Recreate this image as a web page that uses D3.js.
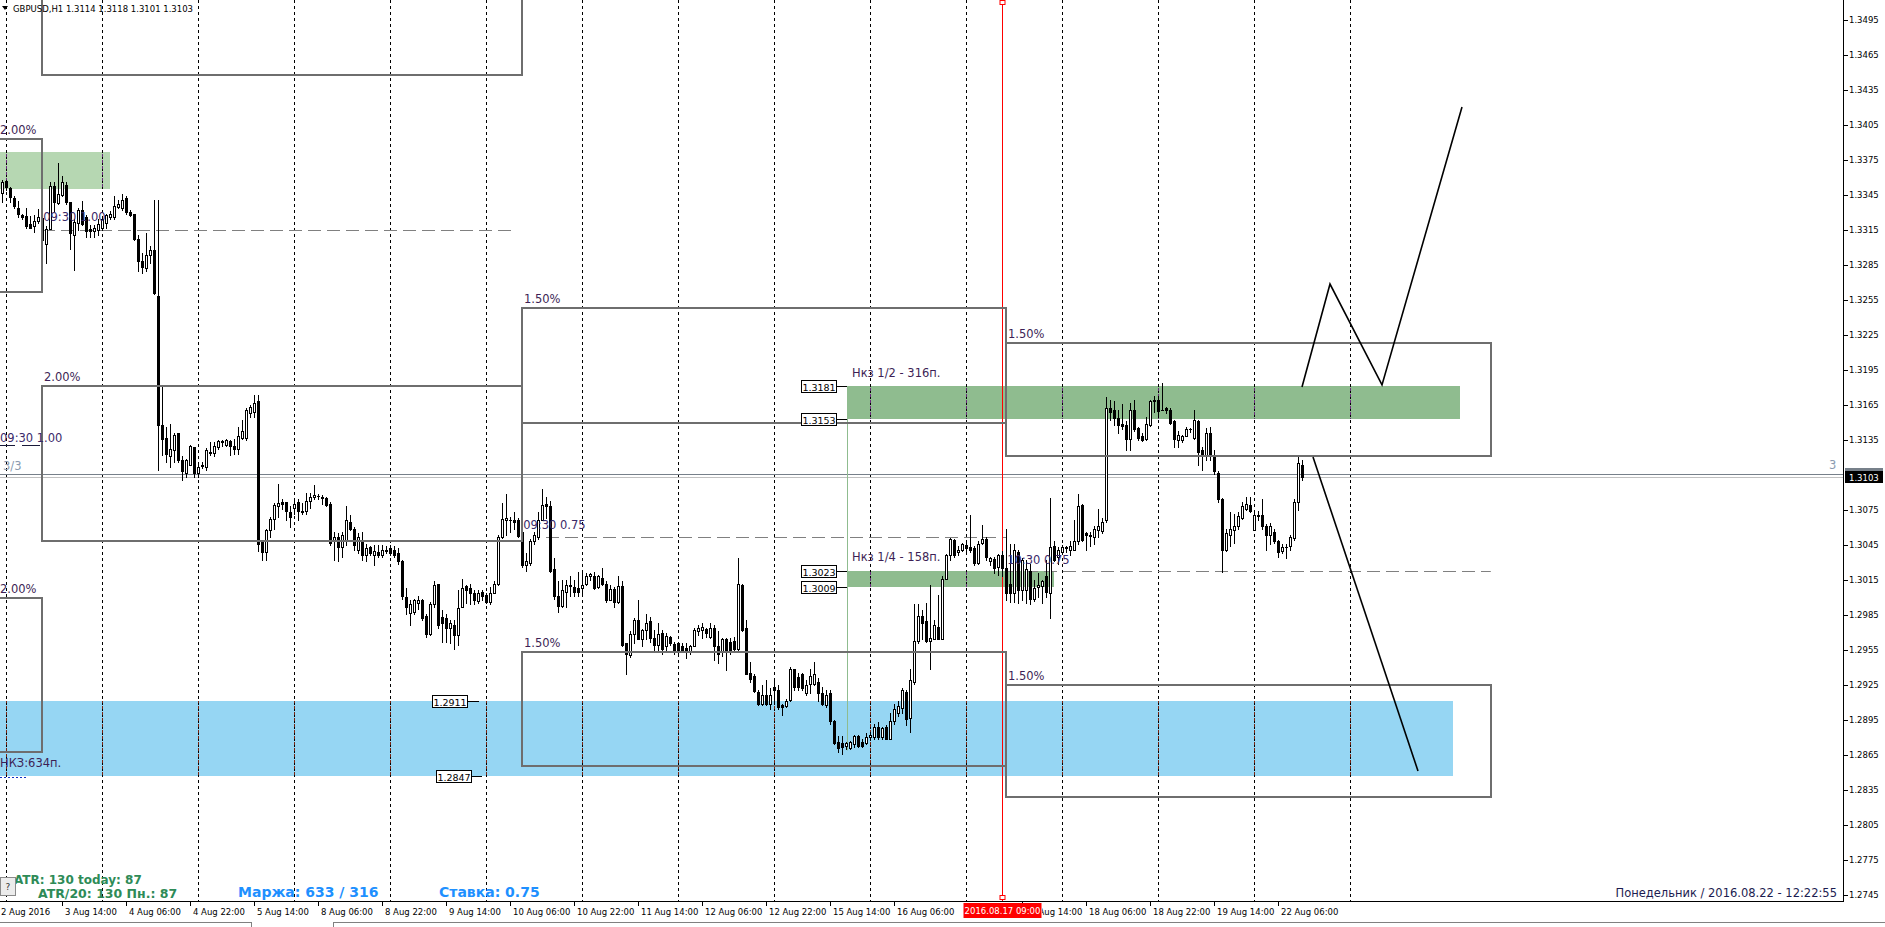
<!DOCTYPE html>
<html><head><meta charset="utf-8">
<script src="https://cdn.jsdelivr.net/npm/d3@7"></script>
<style>
body{margin:0;background:#fff;overflow:hidden}
svg{display:block}
text{font-family:"DejaVu Sans",Verdana,sans-serif}
</style>
</head><body>
<svg id="c" width="1885" height="927"></svg>
<script>
// ---------------- DATA ----------------
const symbolHeader = "GBPUSD,H1  1.3114 1.3118 1.3101 1.3103";
const firstBar = 23; // index of first candle (bar 0 = 2 Aug 2016 00:00, H1)
// [open, high, low, close]
const candles = [
[1.3347,1.3358,1.3339,1.3356],[1.3357,1.3358,1.3349,1.3352],[1.3351,1.3352,1.3339,1.3343],[1.3342,1.3344,1.3334,1.3336],
[1.3334,1.3340,1.3326,1.3329],[1.3328,1.3329,1.3324,1.3326],[1.3327,1.3334,1.3317,1.3318],[1.3320,1.3327,1.3317,1.3317],
[1.3318,1.3328,1.3313,1.3323],[1.3323,1.3333,1.3321,1.3326],[1.3325,1.3326,1.3301,1.3306],[1.3303,1.3318,1.3287,1.3316],
[1.3316,1.3356,1.3316,1.3353],[1.3353,1.3356,1.3331,1.3339],[1.3338,1.3372,1.3337,1.3346],[1.3345,1.3361,1.3344,1.3356],
[1.3354,1.3356,1.3337,1.3339],[1.3339,1.3339,1.3299,1.3312],[1.3311,1.3324,1.3281,1.3322],[1.3321,1.3334,1.3315,1.3332],
[1.3332,1.3340,1.3319,1.3320],[1.3326,1.3328,1.3309,1.3314],[1.3316,1.3319,1.3309,1.3314],[1.3314,1.3319,1.3309,1.3317],
[1.3315,1.3324,1.3311,1.3320],[1.3317,1.3325,1.3315,1.3324],[1.3321,1.3329,1.3317,1.3328],[1.3326,1.3331,1.3324,1.3329],
[1.3326,1.3344,1.3324,1.3336],[1.3335,1.3341,1.3334,1.3337],[1.3334,1.3346,1.3332,1.3341],[1.3342,1.3344,1.3329,1.3330],
[1.3330,1.3332,1.3327,1.3328],[1.3329,1.3329,1.3306,1.3307],[1.3307,1.3311,1.3280,1.3288],[1.3288,1.3295,1.3278,1.3283],
[1.3282,1.3312,1.3280,1.3294],[1.3294,1.3301,1.3287,1.3298],[1.3298,1.3341,1.3260,1.3261],[1.3258,1.3341,1.3109,1.3148],
[1.3148,1.3182,1.3122,1.3136],[1.3137,1.3146,1.3116,1.3123],[1.3121,1.3149,1.3112,1.3127],[1.3126,1.3141,1.3116,1.3139],
[1.3141,1.3141,1.3116,1.3118],[1.3118,1.3121,1.3101,1.3108],[1.3107,1.3119,1.3103,1.3118],[1.3114,1.3131,1.3114,1.3130],
[1.3129,1.3129,1.3103,1.3107],[1.3107,1.3116,1.3103,1.3112],[1.3113,1.3116,1.3111,1.3114],[1.3112,1.3128,1.3109,1.3126],
[1.3124,1.3133,1.3122,1.3125],[1.3124,1.3133,1.3121,1.3130],[1.3129,1.3135,1.3127,1.3134],[1.3133,1.3135,1.3130,1.3134],
[1.3131,1.3136,1.3130,1.3135],[1.3134,1.3135,1.3122,1.3130],[1.3130,1.3136,1.3123,1.3127],[1.3127,1.3146,1.3123,1.3138],
[1.3137,1.3152,1.3136,1.3143],[1.3137,1.3162,1.3135,1.3161],[1.3158,1.3165,1.3155,1.3163],[1.3159,1.3174,1.3155,1.3167],
[1.3168,1.3174,1.3040,1.3046],[1.3048,1.3049,1.3032,1.3039],[1.3039,1.3059,1.3032,1.3058],[1.3058,1.3069,1.3052,1.3067],
[1.3067,1.3081,1.3059,1.3079],[1.3078,1.3097,1.3069,1.3081],[1.3082,1.3084,1.3076,1.3080],[1.3082,1.3082,1.3066,1.3074],
[1.3073,1.3078,1.3060,1.3069],[1.3077,1.3084,1.3072,1.3080],[1.3082,1.3084,1.3066,1.3074],[1.3074,1.3081,1.3072,1.3073],
[1.3074,1.3090,1.3072,1.3083],[1.3083,1.3090,1.3077,1.3086],[1.3086,1.3096,1.3084,1.3088],[1.3087,1.3089,1.3084,1.3087],
[1.3086,1.3088,1.3080,1.3085],[1.3085,1.3086,1.3078,1.3079],[1.3080,1.3082,1.3045,1.3047],[1.3049,1.3056,1.3032,1.3052],
[1.3052,1.3055,1.3031,1.3043],[1.3043,1.3056,1.3035,1.3054],[1.3049,1.3078,1.3045,1.3066],[1.3065,1.3071,1.3058,1.3059],
[1.3059,1.3060,1.3041,1.3045],[1.3041,1.3055,1.3038,1.3052],[1.3048,1.3056,1.3032,1.3036],[1.3036,1.3046,1.3031,1.3042],
[1.3043,1.3044,1.3036,1.3038],[1.3036,1.3045,1.3028,1.3040],[1.3039,1.3045,1.3035,1.3036],[1.3036,1.3045,1.3035,1.3041],
[1.3041,1.3044,1.3038,1.3040],[1.3042,1.3045,1.3036,1.3038],[1.3041,1.3044,1.3035,1.3036],[1.3038,1.3042,1.3029,1.3031],
[1.3031,1.3032,1.2999,1.3001],[1.3000,1.3008,1.2986,1.2992],[1.2987,1.2998,1.2976,1.2994],[1.2988,1.2999,1.2986,1.2998],
[1.2995,1.3001,1.2990,1.2998],[1.2998,1.2999,1.2981,1.2982],[1.2984,1.2986,1.2966,1.2969],[1.2969,1.2996,1.2968,1.2994],
[1.2994,1.3014,1.2992,1.3011],[1.3012,1.3012,1.2974,1.2976],[1.2983,1.2989,1.2962,1.2978],[1.2982,1.2986,1.2962,1.2974],
[1.2974,1.2981,1.2961,1.2978],[1.2976,1.2981,1.2956,1.2968],[1.2968,1.3006,1.2959,1.2991],[1.2992,1.3016,1.2992,1.3008],
[1.3010,1.3011,1.2995,1.3006],[1.3008,1.3012,1.2994,1.3004],[1.3004,1.3006,1.2994,1.2998],[1.2997,1.3006,1.2995,1.3004],
[1.3005,1.3006,1.2998,1.3001],[1.3002,1.3004,1.2995,1.2996],[1.2996,1.3009,1.2994,1.3004],[1.3004,1.3014,1.3004,1.3012],
[1.3012,1.3054,1.3011,1.3052],[1.3052,1.3081,1.3051,1.3067],[1.3066,1.3089,1.3054,1.3068],[1.3066,1.3069,1.3056,1.3066],
[1.3066,1.3073,1.3059,1.3065],[1.3066,1.3068,1.3052,1.3053],[1.3056,1.3058,1.3026,1.3028],[1.3028,1.3038,1.3023,1.3031],
[1.3030,1.3050,1.3028,1.3048],[1.3048,1.3056,1.3046,1.3054],[1.3052,1.3073,1.3050,1.3066],[1.3066,1.3093,1.3066,1.3079],
[1.3080,1.3086,1.3068,1.3078],[1.3078,1.3083,1.3022,1.3023],[1.3024,1.3034,1.2999,1.3001],[1.3001,1.3014,1.2988,1.2993],
[1.2993,1.3015,1.2992,1.3006],[1.3005,1.3015,1.2992,1.3011],[1.3010,1.3018,1.3001,1.3011],[1.3009,1.3015,1.3001,1.3005],
[1.3008,1.3022,1.3001,1.3005],[1.3008,1.3021,1.3004,1.3011],[1.3012,1.3021,1.3011,1.3018],[1.3018,1.3021,1.3015,1.3020],
[1.3018,1.3022,1.3007,1.3008],[1.3009,1.3019,1.3008,1.3018],[1.3017,1.3025,1.3011,1.3012],[1.3012,1.3014,1.2996,1.2998],
[1.2998,1.3011,1.2998,1.3007],[1.3007,1.3009,1.2992,1.2996],[1.2996,1.3018,1.2995,1.3010],[1.3010,1.3014,1.2958,1.2959],
[1.2961,1.2961,1.2934,1.2952],[1.2951,1.2971,1.2949,1.2969],[1.2969,1.2982,1.2961,1.2981],[1.2981,1.2998,1.2964,1.2964],
[1.2964,1.2973,1.2958,1.2972],[1.2972,1.2986,1.2964,1.2978],[1.2980,1.2983,1.2962,1.2965],[1.2965,1.2972,1.2955,1.2959],
[1.2959,1.2978,1.2955,1.2969],[1.2970,1.2972,1.2952,1.2956],[1.2958,1.2970,1.2955,1.2967],[1.2966,1.2967,1.2959,1.2961],
[1.2960,1.2962,1.2952,1.2955],[1.2961,1.2961,1.2952,1.2955],[1.2958,1.2961,1.2953,1.2955],[1.2957,1.2961,1.2948,1.2955],
[1.2954,1.2959,1.2952,1.2958],[1.2958,1.2974,1.2958,1.2972],[1.2971,1.2976,1.2968,1.2974],[1.2972,1.2978,1.2965,1.2975],
[1.2973,1.2974,1.2966,1.2970],[1.2966,1.2978,1.2965,1.2974],[1.2974,1.2976,1.2946,1.2958],[1.2958,1.2971,1.2944,1.2952],
[1.2953,1.2965,1.2950,1.2964],[1.2964,1.2965,1.2938,1.2954],[1.2962,1.2965,1.2952,1.2954],[1.2963,1.2966,1.2955,1.2956],
[1.2956,1.3034,1.2955,1.3012],[1.3011,1.3012,1.2971,1.2972],[1.2974,1.2981,1.2934,1.2934],[1.2935,1.2945,1.2928,1.2930],
[1.2933,1.2934,1.2919,1.2920],[1.2919,1.2921,1.2908,1.2909],[1.2909,1.2925,1.2908,1.2916],[1.2916,1.2929,1.2908,1.2909],
[1.2909,1.2922,1.2904,1.2916],[1.2923,1.2929,1.2909,1.2921],[1.2921,1.2925,1.2904,1.2906],[1.2908,1.2909,1.2899,1.2906],
[1.2907,1.2913,1.2906,1.2911],[1.2912,1.2940,1.2911,1.2939],[1.2939,1.2939,1.2921,1.2923],[1.2932,1.2935,1.2921,1.2923],
[1.2934,1.2935,1.2921,1.2922],[1.2918,1.2929,1.2916,1.2925],[1.2926,1.2939,1.2918,1.2933],[1.2926,1.2945,1.2925,1.2934],
[1.2928,1.2931,1.2911,1.2918],[1.2918,1.2923,1.2908,1.2909],[1.2908,1.2921,1.2906,1.2916],[1.2918,1.2921,1.2892,1.2894],
[1.2894,1.2895,1.2874,1.2875],[1.2876,1.2881,1.2868,1.2871],[1.2875,1.2881,1.2866,1.2872],[1.2873,1.2876,1.2870,1.2875],
[1.2871,1.2877,1.2870,1.2876],[1.2874,1.2882,1.2872,1.2881],[1.2881,1.2882,1.2872,1.2873],[1.2876,1.2879,1.2872,1.2873],
[1.2875,1.2884,1.2874,1.2880],[1.2880,1.2885,1.2879,1.2882],[1.2880,1.2892,1.2879,1.2889],[1.2889,1.2893,1.2879,1.2880],
[1.2880,1.2889,1.2879,1.2888],[1.2889,1.2891,1.2879,1.2879],[1.2879,1.2901,1.2879,1.2894],[1.2894,1.2909,1.2892,1.2904],
[1.2901,1.2911,1.2898,1.2907],[1.2905,1.2922,1.2901,1.2921],[1.2919,1.2921,1.2891,1.2896],[1.2897,1.2939,1.2885,1.2929],
[1.2928,1.2994,1.2926,1.2963],[1.2963,1.2994,1.2961,1.2984],[1.2984,1.2989,1.2964,1.2978],[1.2980,1.2995,1.2962,1.2963],
[1.2963,1.3011,1.2939,1.2965],[1.2964,1.2981,1.2964,1.2976],[1.2975,1.3002,1.2964,1.2964],[1.2964,1.3018,1.2964,1.3016],
[1.3016,1.3037,1.3016,1.3036],[1.3036,1.3051,1.3032,1.3050],[1.3049,1.3050,1.3035,1.3036],[1.3039,1.3044,1.3036,1.3041],
[1.3041,1.3047,1.3040,1.3046],[1.3045,1.3049,1.3040,1.3042],[1.3043,1.3071,1.3039,1.3041],[1.3042,1.3044,1.3028,1.3030],
[1.3030,1.3048,1.3029,1.3046],[1.3047,1.3062,1.3046,1.3050],[1.3050,1.3052,1.3032,1.3035],[1.3031,1.3035,1.3028,1.3034],
[1.3033,1.3035,1.3021,1.3025],[1.3026,1.3037,1.3019,1.3036],[1.3036,1.3040,1.3018,1.3025],[1.3025,1.3059,1.2998,1.3004],
[1.3012,1.3046,1.2996,1.3004],[1.3004,1.3046,1.2996,1.3041],[1.3039,1.3041,1.2995,1.3006],[1.3006,1.3034,1.2998,1.3032],
[1.3006,1.3032,1.2995,1.3024],[1.3023,1.3029,1.2994,1.2999],[1.2999,1.3015,1.2997,1.3008],[1.3009,1.3021,1.3000,1.3011],
[1.3010,1.3015,1.2995,1.3014],[1.3018,1.3032,1.3000,1.3005],[1.3004,1.3085,1.2982,1.3043],[1.3044,1.3048,1.3031,1.3032],
[1.3035,1.3043,1.3029,1.3041],[1.3039,1.3045,1.3037,1.3043],[1.3042,1.3044,1.3039,1.3043],[1.3041,1.3048,1.3036,1.3044],
[1.3041,1.3066,1.3041,1.3048],[1.3048,1.3089,1.3046,1.3078],[1.3079,1.3080,1.3048,1.3049],[1.3055,1.3056,1.3041,1.3054],
[1.3054,1.3056,1.3044,1.3053],[1.3052,1.3061,1.3046,1.3059],[1.3058,1.3076,1.3052,1.3061],[1.3057,1.3068,1.3055,1.3065],
[1.3066,1.3172,1.3065,1.3162],[1.3162,1.3169,1.3152,1.3159],[1.3161,1.3168,1.3148,1.3154],[1.3154,1.3161,1.3141,1.3148],
[1.3149,1.3166,1.3144,1.3147],[1.3148,1.3151,1.3126,1.3136],[1.3136,1.3167,1.3126,1.3161],[1.3161,1.3169,1.3143,1.3144],
[1.3145,1.3146,1.3135,1.3137],[1.3138,1.3141,1.3134,1.3135],[1.3136,1.3155,1.3135,1.3149],[1.3148,1.3169,1.3147,1.3168],
[1.3168,1.3173,1.3159,1.3169],[1.3169,1.3173,1.3155,1.3160],[1.3161,1.3184,1.3161,1.3161],[1.3162,1.3163,1.3158,1.3161],
[1.3161,1.3162,1.3149,1.3150],[1.3151,1.3152,1.3129,1.3136],[1.3135,1.3143,1.3129,1.3139],[1.3135,1.3139,1.3133,1.3138],
[1.3138,1.3146,1.3138,1.3144],[1.3144,1.3145,1.3142,1.3144],[1.3137,1.3161,1.3136,1.3152],[1.3151,1.3152,1.3114,1.3125],
[1.3126,1.3129,1.3109,1.3121],[1.3121,1.3145,1.3118,1.3141],[1.3141,1.3146,1.3118,1.3121],[1.3121,1.3126,1.3106,1.3108],
[1.3107,1.3108,1.3082,1.3084],[1.3084,1.3085,1.3022,1.3041],[1.3041,1.3059,1.3040,1.3055],[1.3054,1.3073,1.3044,1.3059],
[1.3058,1.3072,1.3047,1.3061],[1.3061,1.3073,1.3059,1.3070],[1.3068,1.3082,1.3067,1.3078],[1.3076,1.3086,1.3075,1.3080],
[1.3079,1.3086,1.3073,1.3074],[1.3058,1.3074,1.3058,1.3071],[1.3071,1.3074,1.3066,1.3070],[1.3071,1.3084,1.3059,1.3061],
[1.3061,1.3063,1.3041,1.3054],[1.3054,1.3064,1.3046,1.3061],[1.3056,1.3059,1.3047,1.3048],[1.3048,1.3049,1.3035,1.3039],
[1.3040,1.3046,1.3038,1.3043],[1.3043,1.3046,1.3034,1.3043],[1.3044,1.3054,1.3041,1.3052],[1.3051,1.3084,1.3049,1.3082],
[1.3082,1.3121,1.3075,1.3115],[1.3114,1.3118,1.3101,1.3103]
];
const priceTicks = [1.3495,1.3465,1.3435,1.3405,1.3375,1.3345,1.3315,1.3285,1.3255,1.3225,1.3195,1.3165,1.3135,1.3075,1.3045,1.3015,1.2985,1.2955,1.2925,1.2895,1.2865,1.2835,1.2805,1.2775,1.2745];
const timeLabelBars = [22,38,54,70,86,102,118,134,150,166,182,198,214,230,246,278,294,310,326,342];
const timeLabelTexts = ["2 Aug 2016","3 Aug 14:00","4 Aug 06:00","4 Aug 22:00","5 Aug 14:00","8 Aug 06:00","8 Aug 22:00","9 Aug 14:00","10 Aug 06:00","10 Aug 22:00","11 Aug 14:00","12 Aug 06:00","12 Aug 22:00","15 Aug 14:00","16 Aug 06:00","17 Aug 14:00","18 Aug 06:00","18 Aug 22:00","19 Aug 14:00","22 Aug 06:00"];
const dayStartBars = [24,48,72,96,120,144,168,192,216,240,264,288,312,336,360];
const bidPrice = 1.3103, askPrice = 1.3106;
const markedBar = 273, markedLabel = "2016.08.17 09:00";
// filled zones: [bar0, bar1, priceTop, priceBottom, colour]
const zones = [
  [0, 50, 1.3382, 1.3350, "#b6d7b2"],
  [0, 385.8, 1.2911, 1.2847, "#96d6f3"],
  [234.2, 387.4, 1.3181, 1.3153, "#8fbc8f"],
  [234.2, 286, 1.3023, 1.3009, "#8fbc8f"]
];
// outline boxes: [bar0, bar1, priceTop, priceBottom, label]
const boxes = [
  [33, 153, 1.3600, 1.34481, ""],
  [21.5, 33, 1.33933, 1.32621, "2.00%"],
  [33, 153, 1.31813, 1.30487, "2.00%"],
  [21.5, 33, 1.29999, 1.28679, "2.00%"],
  [153, 274, 1.32479, 1.31498, "1.50%"],
  [153, 274, 1.29536, 1.28559, "1.50%"],
  [274, 395.2, 1.32184, 1.31213, "1.50%"],
  [274, 395.2, 1.29250, 1.28290, "1.50%"]
];
// dashed levels: [bar0, bar1, price]
const dashLevels = [[33, 151, 1.3315], [159, 274, 1.30516], [274, 395.2, 1.30227]];
// level texts: [bar, price, text]
const levelTexts = [[33.3, 1.3323, "09:30 1.00"], [22.2, 1.3133, "09:30 1.00"], [153.3, 1.3059, "09:30 0.75"], [274.3, 1.3029, "10:30 0.75"]];
const zoneNotes = [[235.5, 1.3189, "Нкз 1/2 - 316п."], [235.5, 1.3031, "Нкз 1/4 - 158п."], [22.2, 1.2855, "НКЗ:634п."]];
// price tags: [anchor bar, price, line length px]
const priceTags = [[234.2, 1.3181, 10], [234.2, 1.3153, 10], [234.2, 1.3023, 10], [234.2, 1.3009, 10], [142.3, 1.2911, 11], [143, 1.2847, 10]];
const greenVLine = [234.2, 1.3153, 1.2869];
// forecast paths: [bar, price]
const pathUp = [[348, 1.31804], [355, 1.32687], [368, 1.31822], [388, 1.34204]];
const pathDown = [[350.75, 1.31204], [377, 1.28513]];
const infoATR1 = "ATR: 130  today: 87", infoATR2 = "ATR/20: 130  Пн.: 87";
const infoMargin = "Маржа: 633 / 316", infoRate = "Ставка: 0.75";
const infoClock = "Понедельник / 2016.08.22  -  12:22:55";

// ---------------- SCALES ----------------
const W = 1885, H = 927, plotR = 1843, plotB = 901;
const x = d3.scaleLinear().domain([0, 348]).range([-90, 1302]);
const y = d3.scaleLinear().domain([1.2745, 1.3495]).range([895, 20]);
const svg = d3.select("#c");
svg.append("rect").attr("width", W).attr("height", H).attr("fill", "#fff");
const defs = svg.append("defs");
defs.append("clipPath").attr("id", "plot").append("rect").attr("x", 0).attr("y", 0).attr("width", plotR).attr("height", plotB);
const g = svg.append("g").attr("clip-path", "url(#plot)");
const R = v => Math.round(v);

// zones
zones.forEach(z => {
  g.append("rect").attr("x", R(x(z[0]))).attr("y", R(y(z[2]))).attr("width", R(x(z[1])) - R(x(z[0])))
   .attr("height", R(y(z[3])) - R(y(z[2]))).attr("fill", z[4]);
});
// vertical day grid (dotted), recoloured over zones
const gridG = g.append("g").attr("shape-rendering", "crispEdges");
dayStartBars.forEach(b => {
  const gx = R(x(b)) + 0.5;
  gridG.append("line").attr("x1", gx).attr("x2", gx).attr("y1", 0).attr("y2", plotB)
    .attr("stroke", "#000").attr("stroke-dasharray", "3,3");
  zones.forEach(z => {
    if (b > z[0] && b < z[1]) {
      const y0 = R(y(z[2])), y1 = R(y(z[3]));
      gridG.append("line").attr("x1", gx).attr("x2", gx).attr("y1", y0).attr("y2", y1)
        .attr("stroke", z[4] === "#96d6f3" ? "#7a2410" : "#6a2c7c").attr("stroke-dasharray", "3,3")
        .attr("stroke-dashoffset", -y0);
    }
  });
});
// bid / ask lines
g.append("line").attr("x1", 0).attr("x2", plotR).attr("y1", R(y(askPrice)) + 0.5).attr("y2", R(y(askPrice)) + 0.5).attr("stroke", "#77808a");
g.append("line").attr("x1", 0).attr("x2", plotR).attr("y1", R(y(bidPrice)) + 0.5).attr("y2", R(y(bidPrice)) + 0.5).attr("stroke", "#c0c0c0");
// dashed levels
dashLevels.forEach(d => {
  g.append("line").attr("x1", x(d[0])).attr("x2", x(d[1])).attr("y1", R(y(d[2])) + 0.5).attr("y2", R(y(d[2])) + 0.5)
   .attr("stroke", "#808080").attr("stroke-dasharray", "13,6");
});
// green vertical line
g.append("line").attr("x1", R(x(greenVLine[0])) + 0.5).attr("x2", R(x(greenVLine[0])) + 0.5)
  .attr("y1", y(greenVLine[1])).attr("y2", y(greenVLine[2])).attr("stroke", "#8fbc8f");
// red marker line
const rx = R(x(markedBar)) + 0.5;
g.append("line").attr("x1", rx).attr("x2", rx).attr("y1", 0).attr("y2", plotB).attr("stroke", "#ff0000");
g.append("rect").attr("x", rx - 2.5).attr("y", 0.5).attr("width", 5).attr("height", 4).attr("fill", "#fff").attr("stroke", "#ff0000");
g.append("rect").attr("x", rx - 2.5).attr("y", plotB - 5.5).attr("width", 5).attr("height", 4).attr("fill", "#fff").attr("stroke", "#ff0000");

// candles
const cg = g.append("g").attr("shape-rendering", "crispEdges");
candles.forEach((c, k) => {
  const i = firstBar + k;
  const X = R(x(i));
  const [o, h, l, cl] = c;
  cg.append("line").attr("x1", X + 0.5).attr("x2", X + 0.5).attr("y1", R(y(h))).attr("y2", R(y(l)) + 1).attr("stroke", "#000");
  const top = R(y(Math.max(o, cl))), bot = R(y(Math.min(o, cl)));
  if (bot - top < 1) {
    cg.append("line").attr("x1", X - 1).attr("x2", X + 2).attr("y1", top + 0.5).attr("y2", top + 0.5).attr("stroke", "#000");
  } else {
    cg.append("rect").attr("x", X - 0.5).attr("y", top + 0.5).attr("width", 2).attr("height", bot - top)
      .attr("fill", cl >= o ? "#fff" : "#000").attr("stroke", "#000");
  }
});

// boxes
boxes.forEach(b => {
  const x0 = R(x(b[0])), x1 = R(x(b[1])), y0 = R(y(b[2])), y1 = R(y(b[3]));
  g.append("rect").attr("x", x0).attr("y", y0).attr("width", x1 - x0).attr("height", y1 - y0)
    .attr("fill", "none").attr("stroke", "#6e6e6e").attr("stroke-width", 2);
  if (b[4]) g.append("text").attr("x", Math.max(x0 + 2, 0)).attr("y", y0 - 5).attr("font-size", 11.5).attr("fill", "#3d1f55").text(b[4]);
});
// level texts
levelTexts.forEach(t => {
  g.append("text").attr("x", Math.max(x(t[0]), 0)).attr("y", y(t[1])).attr("font-size", 11.5).attr("fill", "#3a2a6a").text(t[2]);
});
// short underline segments near left "09:30 1.00"
[[0, 15], [22, 40]].forEach(s => g.append("line").attr("x1", s[0]).attr("x2", s[1]).attr("y1", 445.5).attr("y2", 445.5).attr("stroke", "#1a1a3a"));
g.append("text").attr("x", 3).attr("y", 470).attr("font-size", 11.5).attr("fill", "#8a9ab0").text("3/3");
g.append("text").attr("x", 1829).attr("y", 469).attr("font-size", 11.5).attr("fill", "#8a9ab0").text("3");
g.append("line").attr("x1", 0).attr("x2", 26).attr("y1", 777.5).attr("y2", 777.5).attr("stroke", "#1030c0").attr("stroke-dasharray", "2,2");
zoneNotes.forEach(t => {
  g.append("text").attr("x", Math.max(x(t[0]), 0)).attr("y", y(t[1])).attr("font-size", 11.5).attr("fill", "#3d1f55").text(t[2]);
});
// price tags
priceTags.forEach(p => {
  const ax = R(x(p[0])), py = R(y(p[1]));
  g.append("line").attr("x1", ax - p[2]).attr("x2", ax).attr("y1", py + 0.5).attr("y2", py + 0.5).attr("stroke", "#000");
  g.append("rect").attr("x", ax - p[2] - 36 + 0.5).attr("y", py - 5.5).attr("width", 35).attr("height", 12)
    .attr("fill", "#fff").attr("stroke", "#000");
  g.append("text").attr("x", ax - p[2] - 18).attr("y", py + 4.5).attr("text-anchor", "middle").attr("font-size", 9.5).attr("fill", "#000").text(p[1].toFixed(4));
});
// forecast paths
const line = d3.line().x(d => x(d[0])).y(d => y(d[1]));
g.append("path").attr("d", line(pathUp)).attr("fill", "none").attr("stroke", "#000").attr("stroke-width", 1.6);
g.append("path").attr("d", line(pathDown)).attr("fill", "none").attr("stroke", "#000").attr("stroke-width", 1.6);

// header
g.append("path").attr("d", "M2,6 L8,6 L5,10 Z").attr("fill", "#000");
g.append("text").attr("x", 13).attr("y", 12).attr("font-size", 8.5).attr("fill", "#000").text(symbolHeader);
// info texts
g.append("text").attr("x", 14).attr("y", 884).attr("font-size", 12).attr("font-weight", "bold").attr("fill", "#2e8b57").text(infoATR1);
g.append("text").attr("x", 38).attr("y", 898).attr("font-size", 12.5).attr("font-weight", "bold").attr("fill", "#2e8b57").text(infoATR2);
g.append("rect").attr("x", 0.5).attr("y", 877.5).attr("width", 15).attr("height", 18).attr("fill", "#ececec").attr("stroke", "#8a8a8a");
g.append("text").attr("x", 8).attr("y", 890).attr("text-anchor", "middle").attr("font-size", 9).attr("fill", "#333").text("?");
g.append("text").attr("x", 238).attr("y", 897).attr("font-size", 14).attr("font-weight", "bold").attr("fill", "#1e90ff").text(infoMargin);
g.append("text").attr("x", 439).attr("y", 897).attr("font-size", 14).attr("font-weight", "bold").attr("fill", "#1e90ff").text(infoRate);
g.append("text").attr("x", 1837).attr("y", 897).attr("text-anchor", "end").attr("font-size", 11.5).attr("fill", "#1c1c50").text(infoClock);

// ---------------- AXES ----------------
const ax = svg.append("g").attr("shape-rendering", "crispEdges");
ax.append("line").attr("x1", plotR + 0.5).attr("x2", plotR + 0.5).attr("y1", 0).attr("y2", plotB + 1).attr("stroke", "#000");
ax.append("line").attr("x1", 0).attr("x2", plotR + 1).attr("y1", plotB + 0.5).attr("y2", plotB + 0.5).attr("stroke", "#000");
const yAxis = d3.axisRight(y).tickValues(priceTicks).tickSize(4).tickFormat(d3.format(".4f"));
const ya = svg.append("g").attr("transform", `translate(${plotR + 1},0)`).call(yAxis);
ya.select(".domain").remove();
ya.selectAll("text").attr("font-size", 8.5).attr("font-family", "DejaVu Sans").attr("fill", "#000").attr("x", 5);
ya.selectAll("line").attr("stroke", "#000");
// ask / bid price labels
const ayk = R(y(askPrice)), byk = R(y(bidPrice));
svg.append("rect").attr("x", plotR + 2).attr("y", ayk - 6).attr("width", 38).attr("height", 12).attr("fill", "#77808a");
svg.append("text").attr("x", plotR + 6).attr("y", ayk + 4).attr("font-size", 8.5).attr("fill", "#fff").text(askPrice.toFixed(4));
svg.append("rect").attr("x", plotR + 2).attr("y", byk - 6).attr("width", 38).attr("height", 12).attr("fill", "#000");
svg.append("text").attr("x", plotR + 6).attr("y", byk + 4).attr("font-size", 8.5).attr("fill", "#fff").text(bidPrice.toFixed(4));

// time axis
const xa = svg.append("g");
defs.append("clipPath").attr("id", "tclip").append("rect").attr("x", R(x(markedBar)) + 40).attr("y", plotB).attr("width", plotR).attr("height", 30);
timeLabelBars.forEach((b, k) => {
  const tx = R(x(b));
  xa.append("line").attr("x1", tx + 0.5).attr("x2", tx + 0.5).attr("y1", plotB + 1).attr("y2", plotB + 5).attr("stroke", "#000").attr("shape-rendering", "crispEdges");
  const t = xa.append("text").attr("x", tx + 3).attr("y", 915).attr("font-size", 8.5).attr("fill", "#000").text(timeLabelTexts[k]);
  if (tx > R(x(markedBar)) - 40 && tx < R(x(markedBar)) + 40) t.attr("clip-path", "url(#tclip)");
});
// marked time label
svg.append("rect").attr("x", rx - 39).attr("y", 903).attr("width", 78).attr("height", 15).attr("fill", "#ff0000");
svg.append("text").attr("x", rx).attr("y", 914).attr("text-anchor", "middle").attr("font-size", 8.5).attr("fill", "#fff").text(markedLabel);
// bottom tab strip
const tabs = svg.append("g").attr("shape-rendering", "crispEdges");
tabs.append("path").attr("d", "M0,922.5 H251.5 V927").attr("fill", "none").attr("stroke", "#808080");
tabs.append("path").attr("d", "M333.5,927 V922.5 H1885").attr("fill", "none").attr("stroke", "#808080");
</script>
</body></html>
